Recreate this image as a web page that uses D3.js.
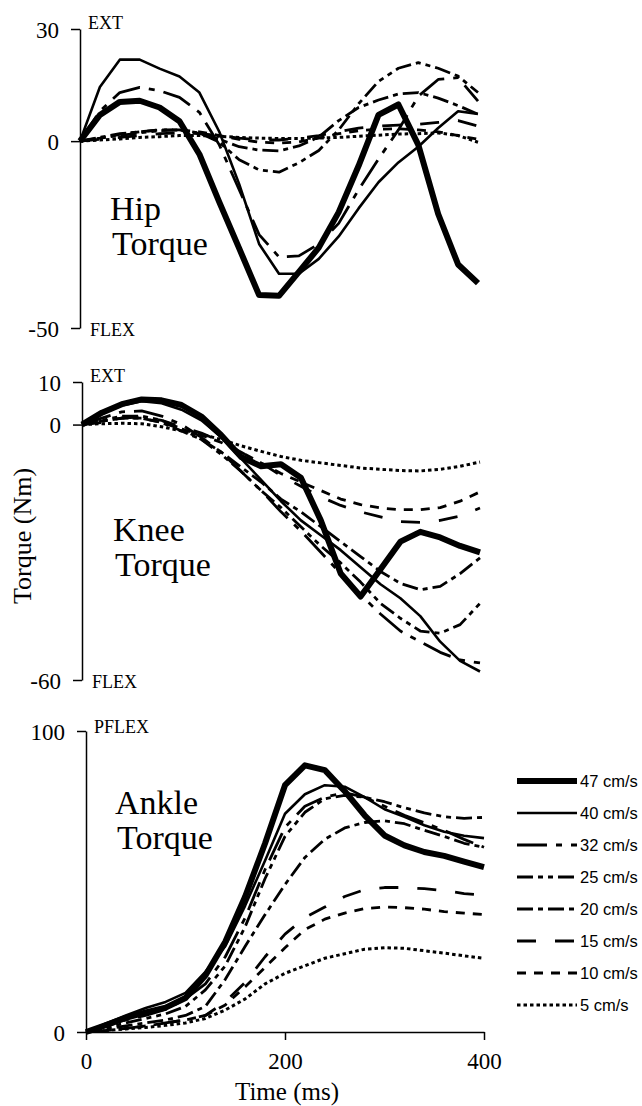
<!DOCTYPE html>
<html>
<head>
<meta charset="utf-8">
<script src="https://cdn.jsdelivr.net/npm/d3@7"></script>
<style>
	body { margin: 0; background: #fff; }
	svg { display: block; }
</style>
</head>
<body>
<script>
// Hip / knee / ankle torque vs time, one line per speed
const width = 642;
const height = 1106;

const times = [0, 20, 40, 60, 80, 100, 120, 140, 160, 180, 200, 220, 240, 260, 280, 300, 320, 340, 360, 380, 400];
const speeds = ['47 cm/s', '40 cm/s', '32 cm/s', '25 cm/s', '20 cm/s', '15 cm/s', '10 cm/s', '5 cm/s'];

// rows follow the order of speeds
const hipTorque = [
	[0, 7, 10.5, 10.8, 9, 5.3, -3.5, -16.3, -28.7, -41.2, -41.4, -35, -28.5, -19, -6.6, 7, 9.8, -1, -19.5, -33, -38],
	[0, 14.5, 21.8, 21.8, 19.4, 17.3, 13, 2.5, -11.5, -27.5, -35.5, -35.5, -31.5, -25.5, -18, -11, -5.7, -1.5, 3.5, 8, 7.3],
	[0, 8, 13, 14.4, 13.5, 11.7, 7.7, -1, -13, -25, -31, -30.7, -27.5, -22, -13, -4.8, 3, 12, 16.5, 17, 10.7],
	[0, 0.8, 1.5, 2.2, 2.8, 3, 2.2, -0.3, -5, -7.7, -8.3, -5.8, -2.5, 3, 10, 16, 19.5, 21, 19.5, 17.4, 13],
	[0, 1, 2, 2.5, 3, 3, 2, 0.5, -1.5, -2.4, -2.6, -1.3, 1.1, 5.5, 9, 11, 12.6, 13, 11.5, 9.5, 7.2],
	[0, 0.5, 1, 1.5, 2, 2.2, 2, 1.5, 0.8, 0.3, 0.3, 0.8, 1.5, 2.5, 3.5, 4, 4.3, 4.5, 5, 5.5, 4],
	[0, 0.8, 1.8, 2.5, 3, 3, 2.5, 1.5, 0.5, -0.3, -0.5, -0.2, 0.8, 2, 2.8, 3.2, 3.3, 3, 2.5, 1.5, 0.5],
	[0, 0.3, 0.6, 1, 1.2, 1.5, 1.5, 1.3, 1, 0.8, 0.7, 0.7, 0.8, 1, 1.3, 1.6, 1.9, 2, 2.2, 1.5, -0.3]
];

const kneeTorque = [
	[0, 2.8, 4.8, 5.9, 5.7, 4.6, 1.9, -2.5, -7.6, -9.8, -9.3, -12.5, -22.5, -35, -40.4, -34, -27.5, -25.2, -26.5, -28.5, -30],
	[0, 2.5, 4.5, 5.5, 5, 3.5, 1, -3, -8, -13, -18, -22.5, -26, -29.5, -33.5, -37.5, -40.8, -45, -51, -55.5, -58],
	[0, 1.5, 3, 3.2, 2, 0, -3, -6.5, -11, -15.5, -20.5, -25, -30, -35, -40, -44.5, -48.5, -51, -53.5, -55.3, -56],
	[0, 1, 2, 2, 1, -1, -3.5, -7, -11, -15.5, -19.5, -24, -28.5, -32.5, -37, -42, -45.5, -48.5, -49, -47, -42],
	[0, 0.8, 1.5, 1.5, 0.5, -1.5, -3.5, -6.5, -10, -13.5, -17.5, -20.5, -24, -27.5, -31, -34.5, -37.3, -38.8, -38, -35, -31.3],
	[0, 0.5, 1.5, 1.8, 1, -0.5, -2, -4, -6.5, -9, -12, -14.5, -17, -19, -20.5, -21.7, -22.8, -23, -22.5, -21.5, -19.6],
	[0, 0.8, 1.5, 1.5, 0.5, -1, -2.5, -4.2, -6.5, -9, -11.5, -13.5, -15.5, -17.5, -18.8, -19.6, -20, -20, -19.5, -18, -15.8],
	[0, 0.2, 0.3, 0.2, -0.5, -1.5, -2.3, -3.5, -5, -6.3, -7.5, -8.4, -9, -9.6, -10.2, -10.5, -10.8, -10.9, -10.5, -9.8, -8.8]
];

const ankleTorque = [
	[0, 2.3, 4.7, 6.5, 8.1, 11.3, 18.8, 30, 45, 62.7, 82, 88.6, 87, 80, 72, 65.3, 62, 59.8, 58.5, 56.6, 54.8],
	[0, 2.8, 5.5, 8, 10, 13, 20, 28.5, 42, 57, 72.5, 79, 82, 81.5, 78, 74, 71.5, 68.7, 66.5, 65.2, 64.4],
	[0, 2, 4, 5.5, 7.5, 11, 16, 25, 38, 54, 68, 75, 78, 79.5, 78, 75, 72, 69.5, 67, 64, 61.4],
	[0, 1.5, 3, 4.5, 6, 8.5, 14, 22, 35, 51, 65, 73, 77.5, 78.6, 78, 76.5, 74.5, 72.8, 71.5, 71, 71.3],
	[0, 1, 2, 3, 4, 5.5, 8.5, 17.5, 28.5, 39, 49, 58, 64, 67.8, 69.6, 70.2, 69.2, 67, 65, 62.7, 61.4],
	[0, 0.5, 1.2, 2, 3, 4, 5.5, 10, 16.5, 25, 32.5, 38, 41.5, 45, 47.3, 48, 48, 47.6, 47, 46, 45.4],
	[0, 0.5, 1.2, 2, 3, 4, 5.5, 9, 15, 21.5, 28, 34, 37.5, 39.5, 41, 41.5, 41.3, 40.8, 40, 39.5, 39],
	[0, 0.5, 1, 1.5, 2.2, 3, 4.5, 7.3, 11, 16, 19.5, 22, 24.5, 26, 27.5, 28, 27.8, 27, 26.2, 25.3, 24.5]
];

const hipTicks = [30, 0, -50];
const kneeTicks = [10, 0, -60];
const ankleTicks = [100, 0];
const timeTicks = [0, 200, 400];

// stroke per speed (same order as speeds)
const lineStyles = [
	{w: 6, dash: null},
	{w: 2.6, dash: null},
	{w: 2.8, dash: '30,9,6,9'},
	{w: 2.8, dash: '16,5,5,5,5,5'},
	{w: 2.8, dash: '16,5,5,5'},
	{w: 2.8, dash: '19,19'},
	{w: 2.8, dash: '9,8'},
	{w: 3, dash: '3.5,3'}
];

const serif = '"Liberation Serif", "Times New Roman", serif';

const panels = [
	{values: hipTorque, ticks: hipTicks, x0: 80, x1: 478, yTop: 29, yBottom: 328,
		top: 'EXT', bottom: 'FLEX', title: ['Hip', 'Torque'], tx: 110, ty: 220},
	{values: kneeTorque, ticks: kneeTicks, x0: 82, x1: 480, yTop: 382, yBottom: 680,
		top: 'EXT', bottom: 'FLEX', title: ['Knee', 'Torque'], tx: 113, ty: 541},
	{values: ankleTorque, ticks: ankleTicks, x0: 86, x1: 484, yTop: 731, yBottom: 1032,
		top: 'PFLEX', bottom: null, title: ['Ankle', 'Torque'], tx: 115, ty: 814}
];

const svg = d3.select('body')
	.append('svg')
	.attr('width', width)
	.attr('height', height)
	.attr('viewBox', [0, 0, width, height]);

panels.forEach((p, pi) => {
	const ticks = p.ticks;
	const xScale = d3.scaleLinear()
		.domain([0, 400])
		.range([p.x0, p.x1]);
	const yScale = d3.scaleLinear()
		.domain([d3.min(ticks), d3.max(ticks)])
		.range([p.yBottom, p.yTop]);

	const line = d3.line()
		.x((d, i) => xScale(times[i]))
		.y(d => yScale(d));

	const g = svg.append('g');

	// draw slowest first so the thick line sits on top
	for (let s = p.values.length - 1; s >= 0; s--) {
		g.append('path')
			.attr('d', line(p.values[s]))
			.attr('fill', 'none')
			.attr('stroke', '#000')
			.attr('stroke-width', lineStyles[s].w)
			.attr('stroke-dasharray', lineStyles[s].dash)
			.attr('stroke-linejoin', 'round');
	}

	// y axis
	const yAxis = svg.append('g')
		.attr('transform', `translate(${p.x0}, 0)`)
		.call(d3.axisLeft(yScale)
			.tickValues(ticks)
			.tickFormat(d => String(d))
			.tickSize(9)
			.tickSizeOuter(0)
			.tickPadding(12));
	yAxis.selectAll('path, line').attr('stroke', '#000').attr('stroke-width', 1.5);
	yAxis.selectAll('text')
		.attr('font-family', serif)
		.attr('font-size', 23)
		.attr('fill', '#000')
		.attr('dy', '0.36em');

	// direction labels
	svg.append('text')
		.attr('x', p.x0 + 8)
		.attr('y', p.yTop + (p.top === 'PFLEX' ? 2 : 0))
		.attr('font-family', serif)
		.attr('font-size', 18)
		.text(p.top);
	if (p.bottom) {
		svg.append('text')
			.attr('x', p.x0 + 10)
			.attr('y', p.yBottom + 8)
			.attr('font-family', serif)
			.attr('font-size', 18)
			.text(p.bottom);
	}

	// panel title
	p.title.forEach((t, i) => {
		svg.append('text')
			.attr('x', p.tx + i * 2)
			.attr('y', p.ty + i * 35)
			.attr('font-family', serif)
			.attr('font-size', 34)
			.text(t);
	});

	// time axis on the ankle panel only
	if (pi === panels.length - 1) {
		const xAxis = svg.append('g')
			.attr('transform', `translate(0, ${p.yBottom})`)
			.call(d3.axisBottom(xScale)
				.tickValues(timeTicks)
				.tickSize(8)
				.tickSizeOuter(0)
				.tickPadding(13));
		xAxis.selectAll('path, line').attr('stroke', '#000').attr('stroke-width', 1.5);
		xAxis.selectAll('text')
			.attr('font-family', serif)
			.attr('font-size', 23)
			.attr('fill', '#000');

		svg.append('text')
			.attr('x', (p.x0 + p.x1) / 2 + 2)
			.attr('y', 1100)
			.attr('text-anchor', 'middle')
			.attr('font-family', serif)
			.attr('font-size', 25)
			.text('Time (ms)');
	}
});

// y axis title
svg.append('text')
	.attr('transform', 'translate(31, 536) rotate(-90)')
	.attr('text-anchor', 'middle')
	.attr('font-family', serif)
	.attr('font-size', 26)
	.text('Torque (Nm)');

// legend
const legend = svg.append('g');
speeds.forEach((name, i) => {
	const y = 781 + i * 32;
	legend.append('line')
		.attr('x1', 517).attr('x2', 577)
		.attr('y1', y).attr('y2', y)
		.attr('stroke', '#000')
		.attr('stroke-width', lineStyles[i].w)
		.attr('stroke-dasharray', lineStyles[i].dash);
	legend.append('text')
		.attr('x', 580)
		.attr('y', y)
		.attr('dy', '0.36em')
		.attr('font-family', '"Liberation Sans", Arial, sans-serif')
		.attr('font-size', 16.5)
		.text(name);
});
</script>
</body>
</html>
